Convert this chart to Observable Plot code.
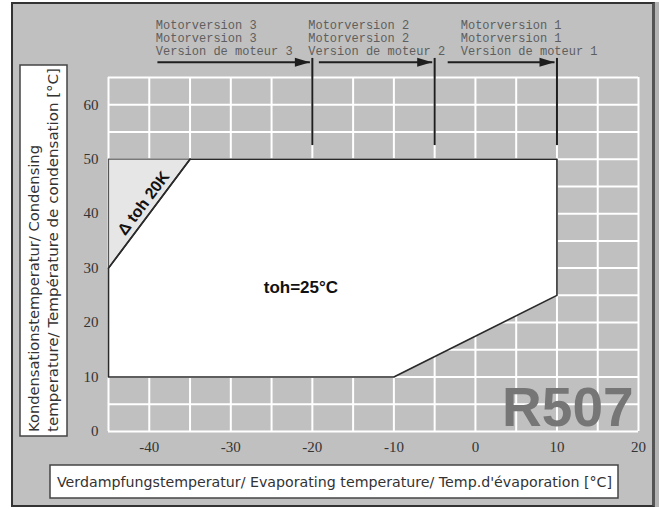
<!DOCTYPE html>
<html>
<head>
<meta charset="utf-8">
<script src="https://cdn.jsdelivr.net/npm/d3@7"></script>
<script src="https://cdn.jsdelivr.net/npm/@observablehq/plot@0.6"></script>
<style>
  html, body { margin: 0; padding: 0; background: #fff; }
  #wrap { position: relative; width: 659px; height: 509px; overflow: hidden; background: #fff; }
  #frame { position: absolute; left: 11px; top: 2px; width: 639px; height: 501px; background: #c0c0c0;
           border: 2px solid #333; border-right: 3px solid #555; }
  #rightstrip { position: absolute; left: 655px; top: 2px; width: 4px; height: 505px; background: #b4b4b4; }
  #chart, #titles { position: absolute; left: 0; top: 0; }
</style>
</head>
<body>
<div id="wrap">
  <div id="frame"></div>
  <div id="rightstrip"></div>
  <div id="chart"></div>
  <svg id="titles" width="659" height="509"></svg>
</div>
<script>
// ---- data ----
const xTicks = [-40, -30, -20, -10, 0, 10, 20];
const yTicks = [0, 10, 20, 30, 40, 50, 60];
const gridX = [-45, -40, -35, -30, -25, -20, -15, -10, -5, 0, 5, 10, 15, 20];
const gridY = [0, 5, 10, 15, 20, 25, 30, 35, 40, 45, 50, 55, 60, 65];

// envelope polygon vertices (evaporating °C, condensing °C)
const envelopeX = [-45, -45, -35, 10, 10, -10, -45];
const envelopeY = [10, 30, 50, 50, 25, 10, 10];
// same envelope as upper/lower bounds for filling
const envX = [-45, -35, -10, 10];
const envLow = [10, 10, 10, 25];
const envHigh = [30, 50, 50, 50];
// Δ toh 20K triangle
const triX = [-45, -35];
const triLow = [30, 50];
const triHigh = [50, 50];
const triEdgeX = [-45, -45, -35];
const triEdgeY = [30, 50, 50];

// motor version limits
const motorX = [-20, -5, 10];
const motorLineBottom = 52.5;
const motorLineTop = 68.5;
const motorLabels = [
  "Motorversion 3\nMotorversion 3\nVersion de moteur 3",
  "Motorversion 2\nMotorversion 2\nVersion de moteur 2",
  "Motorversion 1\nMotorversion 1\nVersion de moteur 1"
];
const motorLabelX = [-39.2, -20.5, -1.8];
const motorLabelY = 75.6;
const arrowX1 = [-39.0, -19.2, -3.4];
const arrowX2 = [-20.3, -5.3, 9.7];
const arrowY = 67.8;

const annotations = [
  {x: -21.4, y: 26.4, text: "toh=25°C"},
];
const deltaLabel = {x: -40.7, y: 41.9, text: "Δ toh 20K"};
const refrigerant = {x: 19.4, y: 1.1, text: "R507"};

// ---- tables ----
const envTable = envX.map((x, i) => ({x, lo: envLow[i], hi: envHigh[i]}));
const triTable = triX.map((x, i) => ({x, lo: triLow[i], hi: triHigh[i]}));
const outline = envelopeX.map((x, i) => ({x, y: envelopeY[i]}));
const triEdge = triEdgeX.map((x, i) => ({x, y: triEdgeY[i]}));
const motors = motorX.map((x, i) => ({x, label: motorLabels[i], lx: motorLabelX[i], a1: arrowX1[i], a2: arrowX2[i]}));

// filled arrowhead symbol pointing right, tip at origin
const arrowHead = {
  draw(ctx) {
    ctx.moveTo(-15, -4.5);
    ctx.lineTo(0, 0);
    ctx.lineTo(-15, 4.5);
    ctx.closePath();
  }
};

const serif = "'Liberation Serif', 'DejaVu Serif', serif";
const sans = "'Liberation Sans', Arial, sans-serif";
const mono = "'Liberation Mono', 'DejaVu Sans Mono', monospace";
const plain = d => String(d);

const chart = Plot.plot({
  width: 659,
  height: 509,
  marginLeft: 108,
  marginRight: 21,
  marginTop: 77,
  marginBottom: 78,
  style: {background: "transparent", fontFamily: serif, fontSize: "15px", color: "#333"},
  x: {domain: [-45, 20]},
  y: {domain: [0, 65]},
  marks: [
    Plot.ruleX(gridX, {y1: 0, y2: 65, stroke: "#fff", strokeWidth: 2}),
    Plot.ruleY(gridY, {x1: -45, x2: 20, stroke: "#fff", strokeWidth: 2}),
    Plot.areaY(envTable, {x: "x", y1: "lo", y2: "hi", fill: "#fff"}),
    Plot.areaY(triTable, {x: "x", y1: "lo", y2: "hi", fill: "#e6e6e6"}),
    Plot.line(triEdge, {x: "x", y: "y", stroke: "#555", strokeWidth: 1.2}),
    Plot.line(outline, {x: "x", y: "y", stroke: "#2a2a2a", strokeWidth: 1.6}),
    Plot.line(triTable, {x: "x", y: "lo", stroke: "#2a2a2a", strokeWidth: 1.6}),
    Plot.ruleX(motors, {x: "x", y1: motorLineBottom, y2: motorLineTop, stroke: "#1e1e1e", strokeWidth: 2}),
    Plot.link(motors, {x1: "a1", x2: "a2", y1: arrowY, y2: arrowY, stroke: "#1e1e1e", strokeWidth: 2}),
    Plot.dot(motors, {x: "a2", y: arrowY, symbol: arrowHead, fill: "#1e1e1e", stroke: null}),
    Plot.text(motors, {x: "lx", y: motorLabelY, text: "label", textAnchor: "start", lineAnchor: "top",
      lineHeight: 1.08, fontFamily: mono, fontSize: 12, fill: "#5e5e5e"}),
    Plot.text(annotations, {x: "x", y: "y", text: "text", fontFamily: sans, fontWeight: "bold", fontSize: 17, fill: "#111"}),
    Plot.text([deltaLabel], {x: "x", y: "y", text: "text", rotate: -53, fontFamily: sans, fontWeight: "bold", fontSize: 16, fill: "#111"}),
    Plot.text([refrigerant], {x: "x", y: "y", text: "text", textAnchor: "end", lineAnchor: "bottom",
      fontFamily: sans, fontWeight: "bold", fontSize: 55, fill: "#767676"}),
    Plot.axisX(xTicks, {tickSize: 0, tickPadding: 10, tickFormat: plain, fontFamily: serif, fontSize: 15, fill: "#333", label: null}),
    Plot.axisY(yTicks, {tickSize: 0, tickPadding: 10, tickFormat: plain, fontFamily: serif, fontSize: 15, fill: "#333", label: null})
  ]
});
document.getElementById("chart").appendChild(chart);

// ---- axis title boxes ----
const t = d3.select("#titles");
const titleFont = "'DejaVu Sans', 'Liberation Sans', sans-serif";
// y title
t.append("rect").attr("x", 20).attr("y", 65).attr("width", 47).attr("height", 371)
  .attr("fill", "#fff").attr("stroke", "#444").attr("stroke-width", 1.5);
const yLines = ["Kondensationstemperatur/ Condensing", "temperature/ Température de condensation [°C]"];
const yLens = [287, 364];
const yCx = [34, 53];
yLines.forEach((s, i) => {
  t.append("text").attr("transform", `translate(${yCx[i]},432) rotate(-90)`)
    .attr("dy", "0.35em").attr("font-family", titleFont).attr("font-size", 13.5).attr("fill", "#333")
    .attr("textLength", yLens[i]).attr("lengthAdjust", "spacingAndGlyphs").text(s);
});
// x title
t.append("rect").attr("x", 50).attr("y", 465).attr("width", 568).attr("height", 33)
  .attr("fill", "#fff").attr("stroke", "#444").attr("stroke-width", 1.5);
t.append("text").attr("x", 57).attr("y", 482).attr("dy", "0.35em")
  .attr("font-family", titleFont).attr("font-size", 13.5).attr("fill", "#333")
  .attr("textLength", 555).attr("lengthAdjust", "spacingAndGlyphs")
  .text("Verdampfungstemperatur/ Evaporating temperature/ Temp.d'évaporation [°C]");
</script>
</body>
</html>
